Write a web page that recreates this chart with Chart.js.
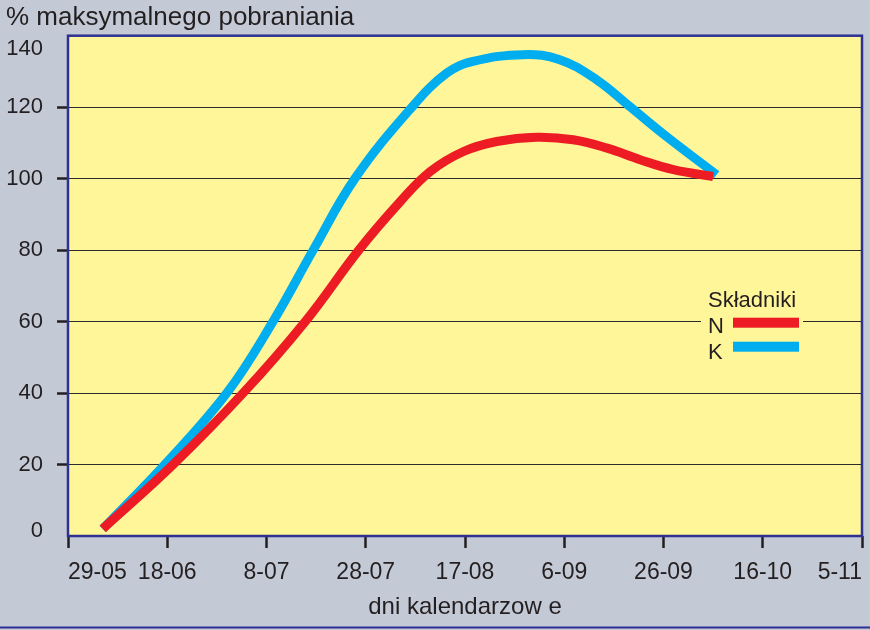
<!DOCTYPE html>
<html>
<head>
<meta charset="utf-8">
<script src="https://cdn.jsdelivr.net/npm/chart.js@4.4.1/dist/chart.umd.min.js"></script>
<style>
  html, body { margin: 0; padding: 0; background: #c4c9d6; }
  canvas { display: block; }
</style>
</head>
<body>
<canvas id="chart" width="870" height="630"></canvas>
<script>
// x axis: days counted from 29-05, one tick every 20 days
const dayLabels = ['29-05', '18-06', '8-07', '28-07', '17-08', '6-09', '26-09', '16-10', '5-11'];

const nDays = [7, 21.2, 35.3, 47.8, 58.6, 66.9, 73, 79.7, 86.4, 94.4, 101.8, 108.5, 115.3, 122, 130];
const nValues = [2, 20, 40, 60, 80, 93.5, 102, 107.6, 110.4, 111.6, 110.9, 108.6, 105.3, 102.5, 100.6];

const kDays = [7, 19.5, 32, 41.3, 49.4, 57.8, 69.3, 76.3, 81.6, 91.8, 99.1, 106.5, 113.2, 120.6, 130.7];
const kValues = [2, 20, 40, 60, 80, 100, 120, 129.5, 132.8, 134.7, 133.3, 127.7, 120.2, 111.8, 101.1];

const seriesNames = ['N', 'K'];
const legendTitle = 'Składniki';
const yTitle = '% maksymalnego pobraniania';
const xTitle = 'dni kalendarzow e';

const FONT = '"Liberation Sans", Arial, sans-serif';
const TEXT = '#231f20';
const BG = '#c4c9d6';
const PLOT = '#fff699';
const FRAME = '#2e3192';

const toPoints = (xs, ys) => xs.map((x, i) => ({ x: x, y: ys[i] }));

// grey page, yellow plot area, blue frame
const frameBg = {
  id: 'frameBg',
  beforeDraw(chart) {
    const { ctx, chartArea: a, width, height } = chart;
    ctx.save();
    ctx.fillStyle = BG;
    ctx.fillRect(0, 0, width, height);
    ctx.fillStyle = PLOT;
    ctx.fillRect(a.left, a.top, a.right - a.left, a.bottom - a.top);
    ctx.restore();
  },
  afterDraw(chart) {
    const { ctx, chartArea: a, width, height } = chart;
    ctx.save();
    ctx.strokeStyle = FRAME;
    ctx.lineWidth = 2.5;
    ctx.strokeRect(a.left, a.top, a.right - a.left, a.bottom - a.top);
    ctx.lineWidth = 2;
    ctx.beginPath();
    ctx.moveTo(0, height - 2.5);
    ctx.lineTo(width, height - 2.5);
    ctx.stroke();
    ctx.restore();
  }
};

// legend box inside the plot, right side
const sideLegend = {
  id: 'sideLegend',
  afterDatasetsDraw(chart) {
    const { ctx, chartArea: a } = chart;
    const x = a.right - 161;
    const y = a.top + 248;
    ctx.save();
    ctx.fillStyle = PLOT;
    ctx.fillRect(x, y, 102, 80);
    ctx.font = '22px ' + FONT;
    ctx.textBaseline = 'alphabetic';
    ctx.fillStyle = TEXT;
    ctx.fillText(legendTitle, x + 7, y + 23);
    chart.data.datasets.forEach((ds, i) => {
      ctx.fillStyle = TEXT;
      ctx.fillText(ds.label, x + 7, y + 49 + i * 26);
      ctx.fillStyle = ds.borderColor;
      ctx.fillRect(x + 32, y + 34 + i * 24, 66, 10);
    });
    ctx.restore();
  }
};

new Chart(document.getElementById('chart'), {
  type: 'line',
  data: {
    datasets: [
      {
        label: seriesNames[0],
        data: toPoints(nDays, nValues),
        borderColor: '#ed1c24',
        borderWidth: 9,
        pointRadius: 0,
        tension: 0.4,
        fill: false
      },
      {
        label: seriesNames[1],
        data: toPoints(kDays, kValues),
        borderColor: '#00aeef',
        borderWidth: 9,
        pointRadius: 0,
        tension: 0.4,
        fill: false
      }
    ]
  },
  options: {
    responsive: false,
    animation: false,
    layout: { padding: { left: 6, right: 8, top: 0, bottom: 8 } },
    plugins: {
      legend: { display: false },
      tooltip: { enabled: false },
      title: {
        display: true,
        text: yTitle,
        align: 'start',
        color: TEXT,
        font: { family: FONT, size: 26, weight: 'normal', lineHeight: 1.2 },
        padding: { top: 2, bottom: 2.5 }
      }
    },
    scales: {
      x: {
        type: 'linear',
        min: 0,
        max: 160,
        border: { display: false },
        grid: {
          drawOnChartArea: false,
          drawTicks: true,
          tickLength: 12,
          tickWidth: 2.5,
          tickColor: TEXT
        },
        ticks: {
          stepSize: 20,
          align: 'inner',
          padding: 11,
          maxRotation: 0,
          autoSkip: false,
          color: TEXT,
          font: { family: FONT, size: 23, lineHeight: 1.2 },
          callback: (v) => dayLabels[Math.round(v / 20)]
        },
        title: {
          display: true,
          text: xTitle,
          color: TEXT,
          font: { family: FONT, size: 24, lineHeight: 1.2 },
          padding: { top: 5, bottom: 0 }
        },
        afterFit: (s) => { s.paddingLeft = 0; s.paddingRight = 0; s.height = 86; }
      },
      y: {
        min: 0,
        max: 140,
        border: { display: false },
        grid: {
          color: '#2b2b2b',
          lineWidth: 1,
          tickLength: 11,
          tickWidth: 2.5,
          tickColor: (ctx) => (ctx.tick && (ctx.tick.value === 0 || ctx.tick.value === 140)) ? 'rgba(0,0,0,0)' : TEXT
        },
        ticks: {
          stepSize: 20,
          padding: 14,
          color: TEXT,
          font: (ctx) => ({
            family: FONT,
            size: 22,
            lineHeight: (ctx.tick && ctx.tick.value === 0) ? 0.45 : 1.2
          }),
          callback: (v) => v === 140 ? ['', '140'] : v === 0 ? ['0', ''] : String(v)
        },
        afterFit: (s) => { s.paddingTop = 0; s.paddingBottom = 0; s.width = 62; }
      }
    }
  },
  plugins: [frameBg, sideLegend]
});
</script>
</body>
</html>
